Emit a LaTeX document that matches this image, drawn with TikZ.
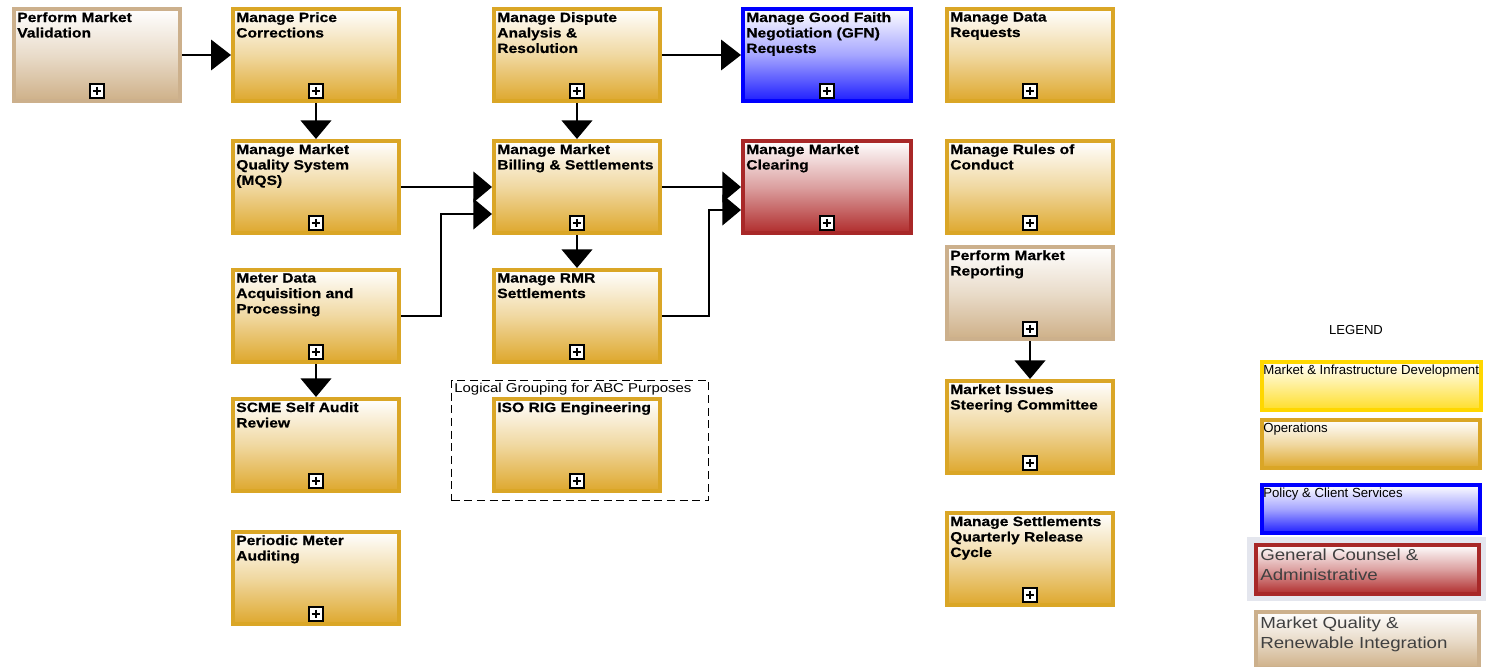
\documentclass[tikz,border=0pt]{standalone}
\usepackage{fontspec}
\setmainfont{Liberation Sans}
\newfontfamily\bxf{Liberation Sans}[FakeStretch=1.17]
\newfontfamily\bxb{Liberation Sans Bold}[FakeStretch=1.16, FakeBold=0.5]
\usetikzlibrary{arrows.meta,calc}
\definecolor{opsB}{RGB}{218,166,38}
\definecolor{opsF}{RGB}{222,168,45}
\definecolor{tanB}{RGB}{204,176,140}
\definecolor{tanF}{RGB}{206,176,136}
\definecolor{bluB}{RGB}{0,0,255}
\definecolor{bluF}{RGB}{30,30,255}
\definecolor{redB}{RGB}{168,40,40}
\definecolor{redF}{RGB}{176,44,44}
\definecolor{yelB}{RGB}{255,215,0}
\definecolor{yelF}{RGB}{255,222,40}
\definecolor{glow}{RGB}{228,230,238}
\definecolor{lgtext}{RGB}{64,64,64}
\def\px{0.75pt}
\newcommand\procbox[5]{%
  \node[pbox,#2,anchor=north west] (#1) at (#3,#4) {};
  \node[boxtext,anchor=north west] (#1-t) at ($(#1.north west)+(5,5)$) {#5};
  \node[plusbox] (#1-p) at ($(#1.south)+(0,-12)$) {};
}
\begin{document}
\begin{tikzpicture}[x=0.75pt,y=-0.75pt,
  pbox/.style={rectangle, line width=3pt, minimum width=166*\px, minimum height=92*\px, inner sep=0pt},
  wide/.style={minimum width=168*\px},
  ops/.style={draw=opsB, top color=white, bottom color=opsF, middle color=opsF!45!white},
  tanc/.style={draw=tanB, top color=white, bottom color=tanF, middle color=tanF!45!white},
  blu/.style={draw=bluB, top color=white, bottom color=bluF, middle color=bluF!40!white},
  redc/.style={draw=redB, top color=white, bottom color=redF, middle color=redF!45!white},
  yel/.style={draw=yelB, top color=white, bottom color=yelF, middle color=yelF!50!white},
  boxtext/.style={inner sep=0pt, align=left, font=\bxb\fontsize{10.1}{11.6}\selectfont},
  lgtxt/.style={inner sep=0pt, align=left, font=\fontsize{9.9}{11}\selectfont},
  lgtxt2/.style={inner sep=0pt, align=left, text=lgtext, font=\bxf\fontsize{12}{14.5}\selectfont},
  plusbox/.style={draw=black, line width=0.9pt, fill=white, minimum size=14*\px, inner sep=0pt,
    path picture={\draw[line width=0.9pt] ([xshift=2pt]path picture bounding box.west) -- ([xshift=-2pt]path picture bounding box.east)
      ([yshift=-2pt]path picture bounding box.north) -- ([yshift=2pt]path picture bounding box.south);}},
  lgbox/.style={rectangle, line width=3pt, inner sep=0pt, anchor=north west},
  arr/.style={line width=1.7pt, -{Triangle[length=14pt,width=23pt]}},
  arrthin/.style={line width=1.1pt, -{Triangle[length=15pt,width=23pt]}},
]
\fill[white] (0,0) rectangle (1490,667);
\useasboundingbox (0,0) rectangle (1490,667);

% group
\node[draw, dashed, dash pattern=on 6pt off 3.5pt, line width=0.75pt, minimum width=257*\px, minimum height=120*\px, anchor=north west, inner sep=0pt] (grp) at (451,380) {};
\node[anchor=west, inner sep=0pt, font=\bxf\fontsize{9.6}{11}\selectfont] (grp-l) at ($(grp.north west)+(3,9)$) {Logical Grouping for ABC Purposes};

\procbox{pmv}{tanc}{12}{7}{Perform Market\\Validation}
\procbox{mpc}{ops}{231}{7}{Manage Price\\Corrections}
\procbox{mdar}{ops}{492}{7}{Manage Dispute\\Analysis \&\\Resolution}
\procbox{gfn}{blu,wide}{741}{7}{Manage Good Faith\\Negotiation (GFN)\\Requests}
\procbox{mdr}{ops}{945}{7}{Manage Data\\Requests}
\procbox{mmqs}{ops}{231}{139}{Manage Market\\Quality System\\(MQS)}
\procbox{mmbs}{ops}{492}{139}{Manage Market\\Billing \& Settlements}
\procbox{mmc}{redc,wide}{741}{139}{Manage Market\\Clearing}
\procbox{mrc}{ops}{945}{139}{Manage Rules of\\Conduct}
\procbox{mdap}{ops}{231}{268}{Meter Data\\Acquisition and\\Processing}
\procbox{rmr}{ops}{492}{268}{Manage RMR\\Settlements}
\procbox{pmr}{tanc}{945}{245}{Perform Market\\Reporting}
\procbox{scme}{ops}{231}{397}{SCME Self Audit\\Review}
\procbox{iso}{ops}{492}{397}{ISO RIG Engineering}
\procbox{misc}{ops}{945}{379}{Market Issues\\Steering Committee}
\procbox{pma}{ops}{231}{530}{Periodic Meter\\Auditing}
\procbox{msq}{ops}{945}{511}{Manage Settlements\\Quarterly Release\\Cycle}

% connectors
\draw[arrthin] (pmv.east) -- (mpc.west);
\draw[arr] (mpc.south) -- (mmqs.north);
\draw[arrthin] (mdar.east) -- (gfn.west);
\draw[arr] (mdar.south) -- (mmbs.north);
\draw[arr] (mmqs.east) -- (mmbs.west);
\draw[arr] (mdap.east) -- ++(40,0) |- ($(mmbs.west)+(0,27)$);
\draw[arr] (mmbs.south) -- (rmr.north);
\draw[arr] (mmbs.east) -- (mmc.west);
\draw[arr] (rmr.east) -- ++(47,0) |- ($(mmc.west)+(0,23)$);
\draw[arr] (mdap.south) -- (scme.north);
\draw[arr] (pmr.south) -- (misc.north);

% legend
\node[font=\fontsize{9.8}{11}\selectfont, inner sep=0pt] (lg) at (1356,330) {LEGEND};
\node[lgbox, yel, minimum width=219*\px, minimum height=48*\px] (lmid) at (1260,360) {};
\node[lgtxt, anchor=north west] (lmid-t) at ($(lmid.north west)+(3,5)$) {Market \& Infrastructure Development};
\node[lgbox, ops, minimum width=218*\px, minimum height=48*\px] (lops) at (1260,418) {};
\node[lgtxt, anchor=north west] (lops-t) at ($(lops.north west)+(3,5)$) {Operations};
\node[lgbox, blu, minimum width=218*\px, minimum height=48*\px] (lpcs) at (1260,483) {};
\node[lgtxt, anchor=north west] (lpcs-t) at ($(lpcs.north west)+(3,5)$) {Policy \& Client Services};
\node[fill=glow, anchor=north west, minimum width=239*\px, minimum height=64*\px, inner sep=0pt] (lglow) at (1247,537) {};
\node[lgbox, redc, minimum width=223*\px, minimum height=49*\px] (lgca) at (1254,543) {};
\node[lgtxt2, anchor=north west] (lgca-t) at ($(lgca.north west)+(6,6)$) {General Counsel \&\\Administrative};
\node[lgbox, tanc, minimum width=223*\px, minimum height=56*\px] (lmq) at (1254,610) {};
\node[lgtxt2, anchor=north west] (lmq-t) at ($(lmq.north west)+(6,7)$) {Market Quality \&\\Renewable Integration};
\end{tikzpicture}
\end{document}
